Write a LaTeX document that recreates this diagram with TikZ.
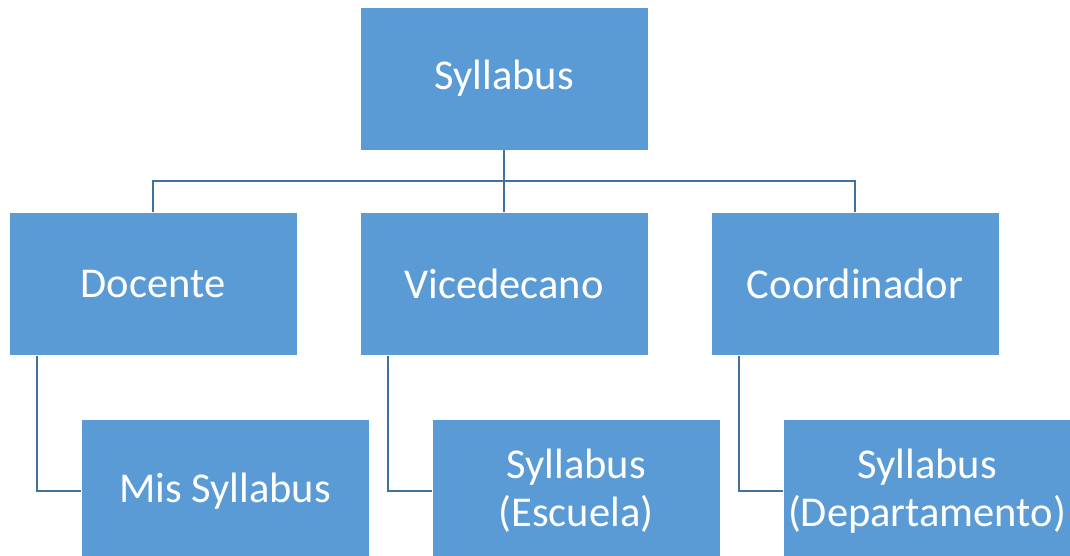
\documentclass[tikz,border=0pt]{standalone}
\usepackage{fontspec}
\setmainfont{Carlito}
\definecolor{boxblue}{HTML}{5B9BD5}
\definecolor{lineblue}{HTML}{41719C}
\begin{document}
\begin{tikzpicture}[x=1pt,y=-1pt,
  orgbox/.style={fill=boxblue, draw=white, line width=0.6pt, minimum width=288pt, minimum height=143pt,
    inner sep=0pt, text=white, font=\fontsize{42.5}{48}\selectfont, align=center, anchor=center},
  link/.style={draw=lineblue, line width=2.8pt}]
\useasboundingbox (0,0) rectangle (1070,556);
\clip (0,0) rectangle (1070,556);
\node[orgbox] (root) at (504,78.5) {Syllabus};
\node[orgbox] (doc) at (153,284) {Docente};
\node[orgbox] (vice) at (504,284) {Vicedecano};
\node[orgbox] (coord) at (855,284) {Coordinador};
\node[orgbox] (mis) at (225,491) {Mis Syllabus};
\node[orgbox] (esc) at (576,491) {Syllabus\\(Escuela)};
\node[orgbox] (dep) at (927,491) {Syllabus\\(Departamento)};
\coordinate (hub) at (504,181);
\draw[link] (root.south) -- (hub) -- (vice.north);
\draw[link] (doc.north) |- (hub);
\draw[link] (coord.north) |- (hub);
\draw[link] ([xshift=-116pt]doc.south) |- (mis.west);
\draw[link] ([xshift=-116pt]vice.south) |- (esc.west);
\draw[link] ([xshift=-116pt]coord.south) |- (dep.west);
\end{tikzpicture}
\end{document}
